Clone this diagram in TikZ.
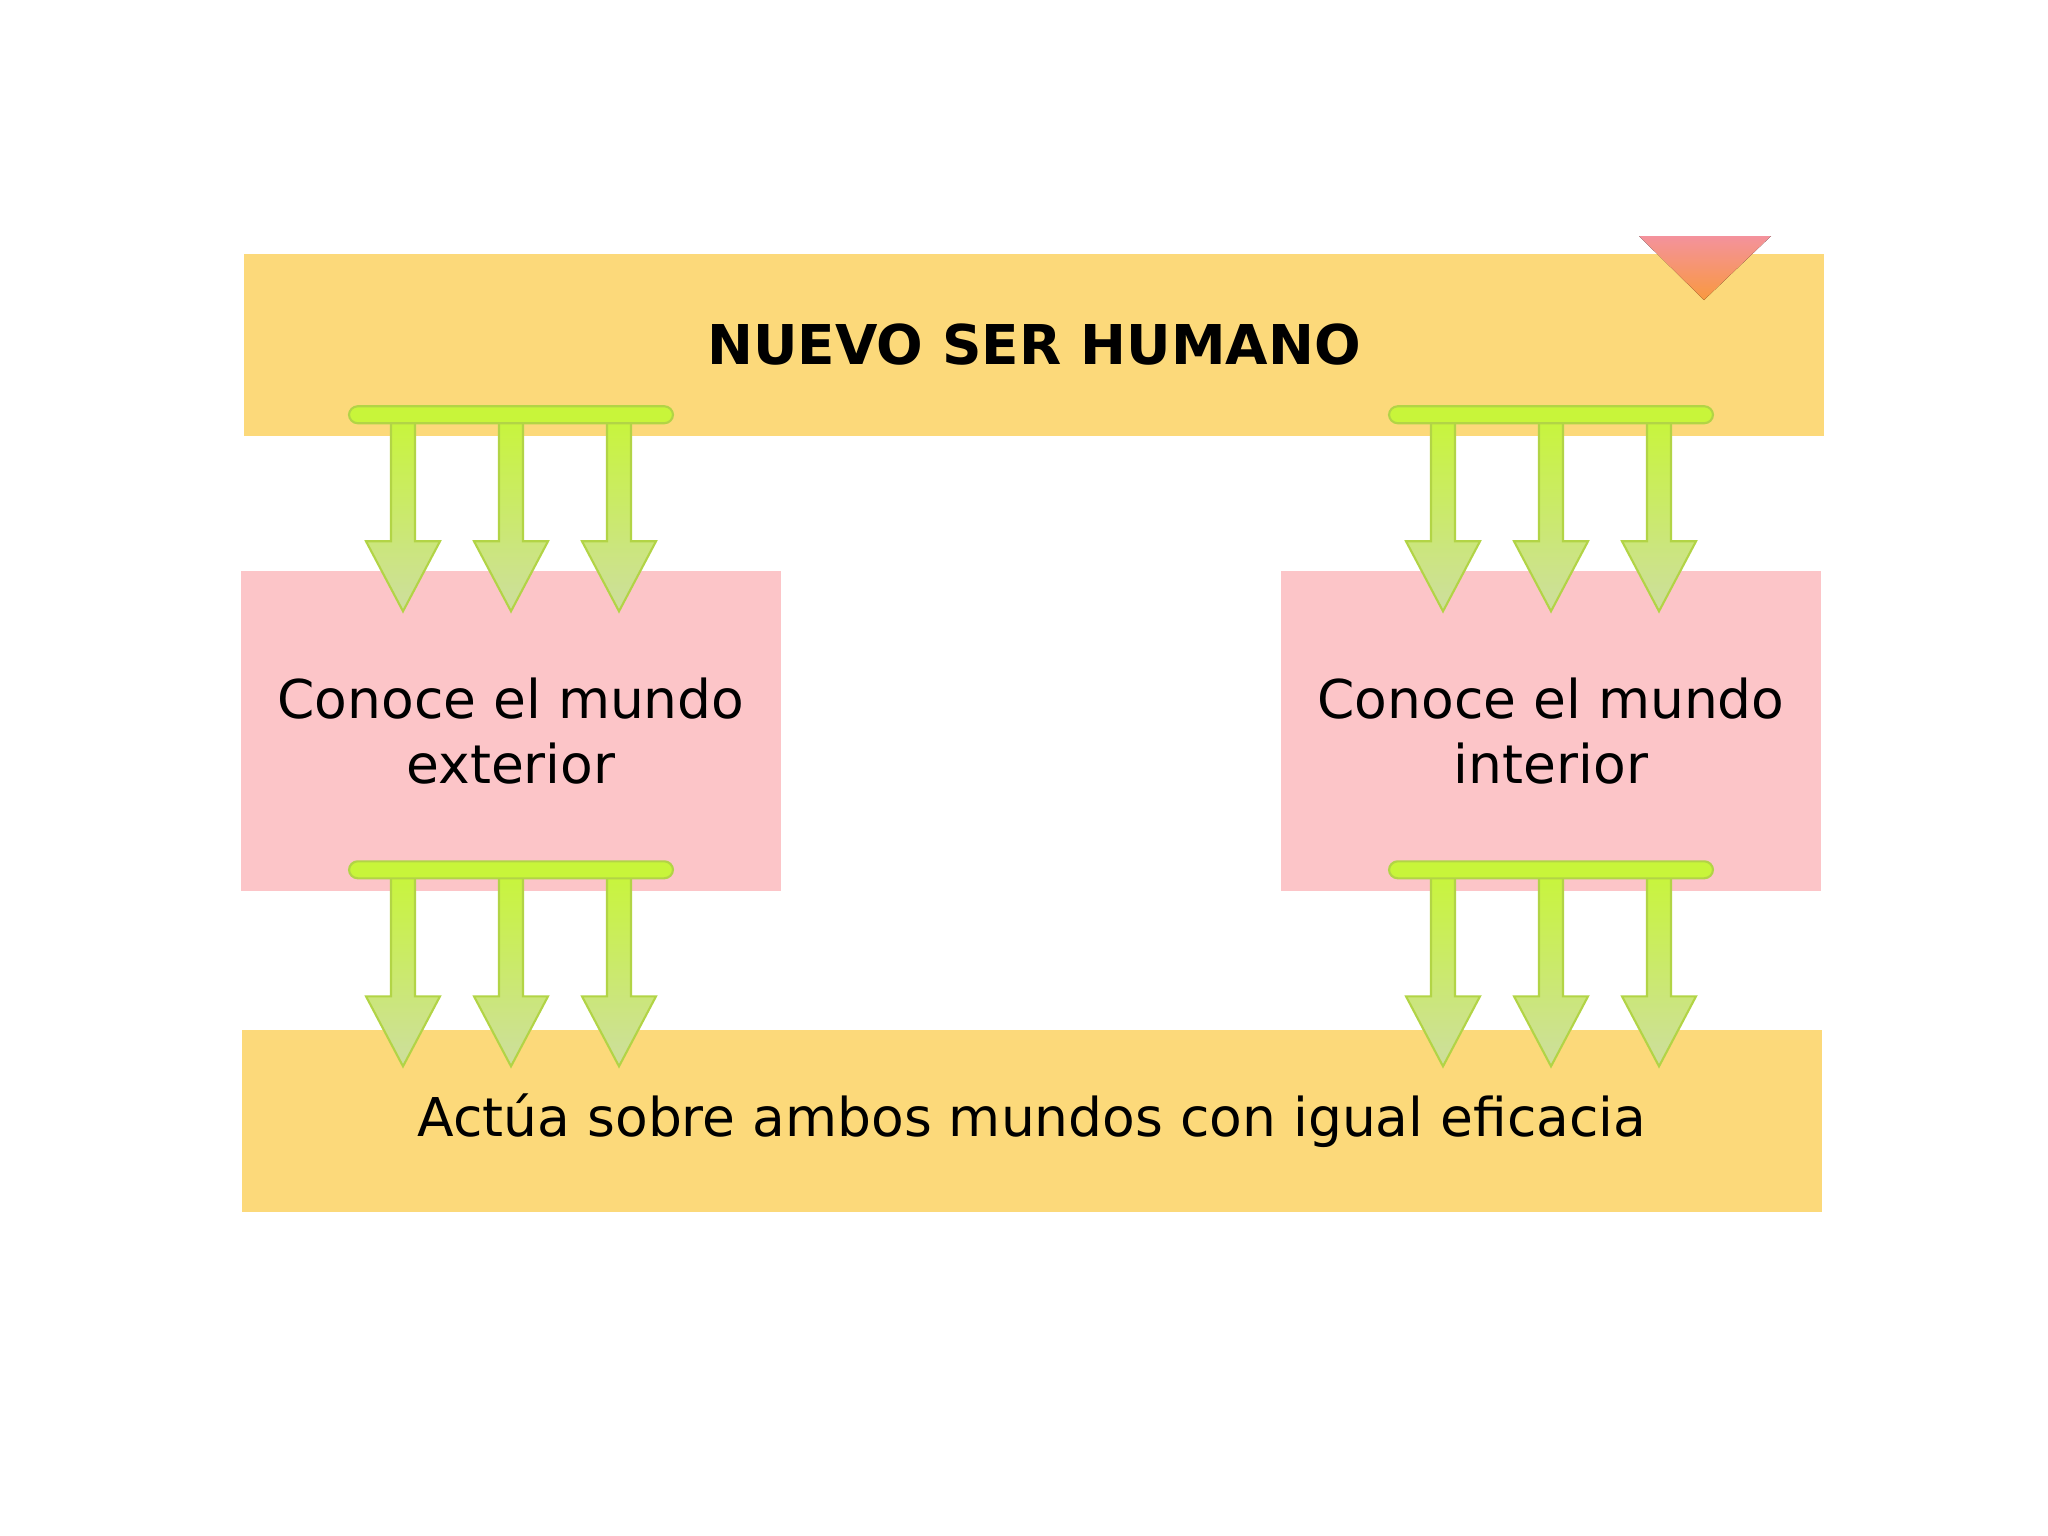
\documentclass[tikz,border=0pt]{standalone}
\usepackage{fontspec}
\setmainfont{DejaVu Sans}
\definecolor{bandyellow}{RGB}{252,217,122}
\definecolor{worldpink}{RGB}{252,197,200}
\definecolor{limebar}{RGB}{200,245,58}
\definecolor{limepale}{RGB}{205,222,158}
\definecolor{limeedge}{RGB}{178,212,70}
\definecolor{markpink}{RGB}{244,146,156}
\definecolor{markorange}{RGB}{248,170,70}
\tikzset{
  band/.style={fill=bandyellow, minimum width=15.8cm, minimum height=1.81cm, inner sep=0pt},
  world/.style={fill=worldpink, minimum width=5.39cm, minimum height=3.19cm, inner sep=0pt, align=center},
  arrowbody/.style={draw=limeedge, line width=0.6pt, top color=limebar, middle color=limebar, bottom color=limepale},
  greenbar/.style={draw=limeedge, line width=0.6pt, fill=limebar, rounded corners=2.5pt}
}
%% three arrows under node #2, centred on node #1
\newcommand{\arrowgroup}[2]{%
  \begin{scope}[shift={(#1.center |- #2.south)}]
    \foreach \dx in {-108,0,108}
      \draw[arrowbody] (\dx-12,-20) -- (\dx+12,-20) -- (\dx+12,105) -- (\dx+37,105)
        -- (\dx,175) -- (\dx-37,105) -- (\dx-12,105) -- cycle;
    \draw[greenbar] (-162,-30) rectangle (162,-13);
  \end{scope}}
\begin{document}
\begin{tikzpicture}[x=0.01cm, y=-0.01cm]
  \useasboundingbox[fill=white] (0,0) rectangle (2048,1536);
  %% bands and boxes
  \node[band, font=\bfseries\fontsize{15.6}{19}\selectfont] (human) at (1034,345) {NUEVO SER HUMANO};
  \node[world, font=\fontsize{15.2}{18.5}\selectfont] (exterior) at (511,731) {Conoce el mundo\\exterior};
  \node[world, font=\fontsize{15.2}{18.5}\selectfont] (interior) at (1551,731) {Conoce el mundo\\interior};
  \node[band, font=\fontsize{15.2}{18.5}\selectfont] (acts) at (1032,1121) {Actúa sobre ambos mundos con igual eficacia};
  %% arrows
  \arrowgroup{exterior}{human}
  \arrowgroup{interior}{human}
  \arrowgroup{exterior}{exterior}
  \arrowgroup{interior}{interior}
  %% corner mark
  \fill[top color=markpink, middle color=markorange, bottom color=markorange!90!red] (1639,236) -- (1771,236) -- (1704,300) -- cycle;
\end{tikzpicture}
\end{document}
